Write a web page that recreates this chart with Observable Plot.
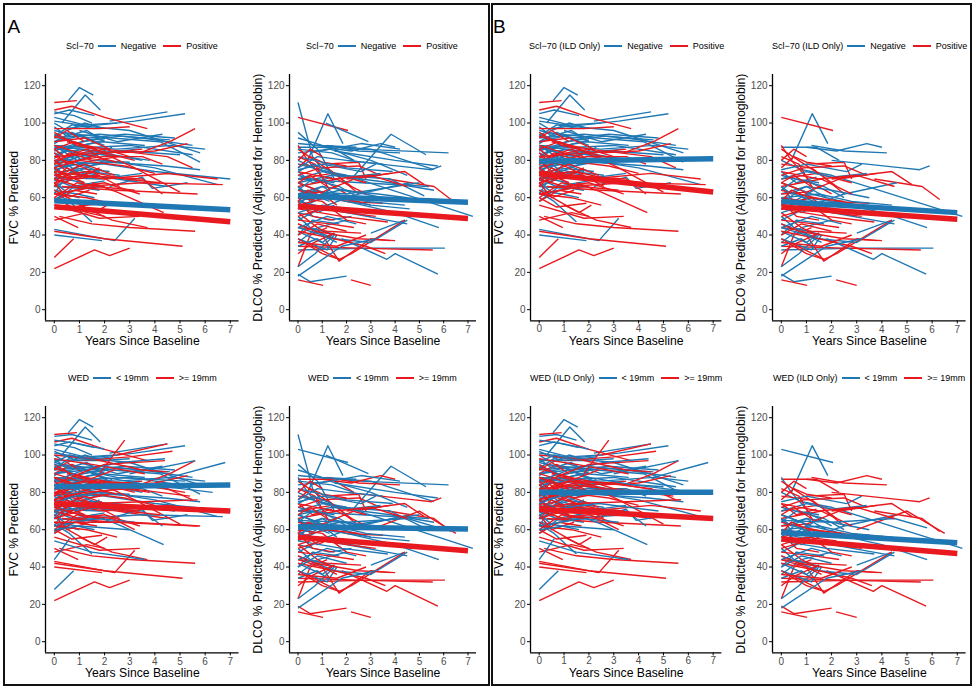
<!DOCTYPE html>
<html>
<head>
<meta charset="utf-8">
<script src="https://cdn.jsdelivr.net/npm/d3@7"></script>
<script src="https://cdn.jsdelivr.net/npm/@observablehq/plot@0.6"></script>
<style>
  html, body { margin: 0; padding: 0; background: #fff; }
  #page { position: relative; width: 975px; height: 689px; overflow: hidden; background: #fff;
          font-family: "Liberation Sans", Arial, Helvetica, sans-serif; }
  .box { position: absolute; border: 2.5px solid #111; box-sizing: border-box; }
  .tag { position: absolute; font-size: 19px; color: #000; line-height: 1; }
  .legend { position: absolute; display: flex; align-items: center; white-space: nowrap; height: 12px;
            font-size: 9px; line-height: 12px; color: #000; }
  .legend .key { display: inline-block; width: 18px; height: 2px; margin: 0 5px 0 4px; }
  .legend .gap { display: inline-block; width: 3px; }
  svg.panel { position: absolute; }
</style>
</head>
<body>
<div id="page"></div>
<script>
// ---------------- data ----------------
const xTicks = [0, 1, 2, 3, 4, 5, 6, 7];
const yTicks = [0, 20, 40, 60, 80, 100, 120];
const scl70Labels = ["Negative", "Positive"];
const wedLabels = ["< 19mm", ">= 19mm"];
const xTitle = "Years Since Baseline";
const fvcTitle = "FVC % Predicted";
const dlcoTitle = "DLCO % Predicted (Adjusted for Hemoglobin)";

// FVC trajectories: [Scl-70 (N/P/null), WED (L = <19mm, G = >=19mm), ILD (1/0), t0, v0, t1, v1, ...]
const fvcLines = [
  ["N","L",1, 0.56,112, 1.0,119, 1.55,115],
  ["N","L",1, 0.3,100, 1.23,115, 1.83,107],
  ["N","L",1, 0,105, 0.6,107, 1.6,104],
  ["N","L",1, 0,103, 1.2,99, 2.5,100],
  ["N","L",1, 2.2,101, 4.5,106],
  ["N","L",1, 0.4,97, 3.2,101, 5.2,105],
  ["N","L",1, 0,101, 1.5,98, 3,96, 5.8,84],
  ["N","L",1, 0.2,95, 2.3,92, 4.2,90, 5.8,79],
  ["N","L",1, 0,92, 1.8,94, 3.5,92, 5.5,88],
  ["N","L",1, 0,88, 2.5,86, 4.6,88, 6,86],
  ["N","L",0, 0,80, 2,78, 4,74, 7,70],
  ["N","L",1, 0,85, 1.1,90, 2.6,93, 4.6,91],
  ["N","L",1, 0,78, 1,82, 2.8,85, 5,83],
  ["N","G",1, 0,90, 0.7,95, 1.8,89],
  ["N","L",1, 0.1,84, 1.2,86, 3.5,80],
  ["N","L",1, 0,75, 1.5,80, 3,79],
  ["N","L",1, 0,72, 0.8,76, 2.2,74],
  ["N","G",1, 0,70, 1.4,72, 2.5,70, 4.5,66],
  ["N","L",1, 0,68, 0.5,63, 1.6,66],
  ["N","L",1, 0,66, 1,65, 2,66],
  ["N","L",1, 2.2,66, 3.5,71, 3.9,65, 5.3,68],
  ["N","L",1, 0,64, 0.9,62, 1.6,60],
  ["N","L",1, 0,63, 0.6,58, 1.5,47],
  ["N","G",1, 0,43, 2.4,37, 3.2,49],
  ["N","G",1, 0,40, 1.9,37],
  ["N","L",0, 0,59, 0.4,62, 1,60],
  ["N","L",1, 0,98, 0.5,93, 1.3,96, 2,90],
  ["N","L",1, 0,82, 0.5,86, 1.1,80],
  ["N","G",1, 0,76, 1,86, 2.2,84],
  ["N","L",1, 0.3,88, 1.6,84, 3.4,86],
  ["N","L",1, 0,94, 0.8,89, 1.8,92],
  ["N","L",1, 1,96, 2.5,90, 4.3,94],
  ["N","L",1, 0,74, 0.5,78, 1.3,70],
  ["N","L",1, 0,86, 3,88, 5.5,83],
  ["N","L",1, 0.5,72, 2,80, 4,76, 6.5,67],
  ["N","L",1, 0,80, 1,72, 1.9,75],
  ["N","L",1, 0,70, 0.7,66, 2,69],
  ["N","G",1, 0,88, 0.9,80, 1.7,83],
  ["N","L",1, 0,66, 1.3,74, 2.6,72],
  ["N","L",0, 0,106, 0.8,104, 1.5,100],
  ["N","L",1, 0,96, 1.4,92, 2.8,94, 4.8,92],
  ["N","L",1, 0,90, 1,93, 2,88],
  ["N","L",1, 0,84, 0.6,80, 1.4,84, 2.4,82],
  ["N","G",1, 0,79, 1.2,84, 2.8,82, 3.8,80],
  ["N","L",1, 0.2,86, 1.9,90, 3.6,88],
  ["N","L",1, 0,77, 2.2,79, 4.4,77, 5.8,75],
  ["N","L",1, 0,93, 0.7,99, 1.6,97],
  ["N","L",1, 0,71, 1.8,70, 3.5,73],
  ["N","L",1, 0,100, 0.5,96, 1.2,100, 2,97],
  ["N","L",1, 0,89, 0.4,92, 1.1,88, 2,91],
  ["N","L",1, 0,81, 0.8,88, 1.6,86],
  ["N","G",1, 0,73, 0.6,80, 1.4,77, 2.2,79],
  ["N","L",1, 0,69, 0.9,75, 1.7,72],
  ["N","L",1, 0,62, 0.4,70, 1.2,68],
  ["N","L",1, 0,58, 0.8,66, 1.8,64],
  ["N","L",1, 0,87, 1.4,82, 2.3,87],
  ["N","L",1, 0,76, 0.5,72, 1,78, 1.8,74],
  ["P","G",1, 0,111, 0.9,112],
  ["P","G",1, 0,107, 0.7,109, 2,103, 3.7,97],
  ["P","L",1, 0,97, 1.8,97, 3,98],
  ["P","G",1, 3.4,84, 4.6,90, 5.6,97],
  ["P","G",1, 2.5,84, 4,85, 5.3,89],
  ["P","G",1, 0,93, 1.6,86, 3.2,76, 5,63],
  ["P","L",1, 0,28, 0.77,38],
  ["P","G",1, 0,22, 1.6,32, 2.2,29, 3,33],
  ["P","G",1, 0,42, 2,38, 5.1,34],
  ["P","G",1, 0.2,50, 1.5,46, 3,44, 5.6,42],
  ["P","L",1, 1.1,66, 3.5,68, 6.7,67],
  ["P","G",1, 0.3,66, 2.5,64, 5.7,62],
  ["P","L",1, 1.5,68, 2.5,63, 4.35,52],
  ["P","G",1, 0,50, 0.95,44],
  ["P","G",1, 1,56, 2.3,48, 3.7,44],
  ["P","G",1, 0,80, 0.5,74, 1.2,78, 2.4,72],
  ["P","G",1, 0,76, 1,80, 2.8,77, 4,73],
  ["P","L",1, 0,72, 0.9,70, 1.8,76],
  ["P","G",1, 0,84, 0.5,78, 1.5,82],
  ["P","G",1, 0,70, 1,66, 2,68, 3.4,62],
  ["P","G",1, 0,62, 1.3,60, 2.5,56],
  ["P","G",1, 0,58, 0.8,64, 1.7,62],
  ["P","G",1, 0,64, 1.6,52, 2.1,56],
  ["P","L",1, 0,78, 1.9,82, 3.5,82, 4.3,78],
  ["P","G",1, 0,88, 1,84, 2.5,79],
  ["P","G",1, 0,74, 2,70, 4.5,73, 6.5,70],
  ["P","G",1, 0,60, 0.7,55, 1.9,57],
  ["P","G",1, 0,86, 0.8,90, 1.7,86],
  ["P","G",1, 0,82, 1.2,76, 2.6,66],
  ["P","L",1, 0,68, 1,72, 3.5,70, 4.3,62],
  ["P","G",1, 0,56, 1.8,49, 3.4,50],
  ["P","G",1, 0,48, 1.3,52, 2,50],
  ["P","G",1, 0.5,90, 2,86, 4.5,82, 5.5,76],
  ["P","G",1, 0,66, 0.5,72, 1.2,68],
  ["P","G",1, 0,78, 0.6,84, 1.5,80, 2.6,82],
  ["P","G",1, 0,72, 1.4,74, 2.8,70, 4.2,68],
  ["P","L",1, 0,90, 1.2,92, 2.2,86],
  ["P","G",1, 0,68, 0.5,60, 1.4,64],
  ["P","G",1, 0,82, 2,84, 3.2,80],
  ["P","G",1, 0,95, 0.9,88, 2.2,84, 3.5,86],
  ["P","L",1, 0,62, 1.7,66, 3.2,64],
  ["P","G",1, 0,74, 0.4,68, 1,72],
  ["P","G",1, 0,86, 0.4,82, 1.3,86, 2,80],
  ["P","G",1, 0,76, 0.6,70, 1.6,74],
  ["P","L",1, 0,66, 0.3,74, 0.9,70, 1.8,72],
  ["P","G",1, 0,92, 0.5,96, 1.2,90],
  ["P","G",1, 0,60, 0.9,68, 1.8,66],
  ["P","G",1, 0,80, 1.1,84, 2,86, 3,82],
  ["P","G",1, 0,70, 0.5,76, 1.1,72],
  [null,"L",1, 0,110, 0.7,111, 1.5,108],
  [null,"G",1, 1.8,90, 2.8,108],
  [null,"G",1, 2.5,100, 4.5,106],
  [null,"G",1, 1,97, 3,99, 4.7,102],
  [null,"L",1, 3,90, 5.6,97],
  [null,"L",1, 4.6,88, 6.8,96],
  [null,"L",0, 0,95, 2.5,88, 5.2,86],
  [null,"G",1, 0,100, 1.5,98, 3.5,92, 4.5,91],
  [null,"G",1, 0,80, 1.5,74, 3.5,75, 5.7,76],
  [null,"L",1, 0,60, 1,62, 3,60],
  [null,"G",0, 0,64, 3,64, 5.8,62],
  [null,"L",1, 0,54, 1.5,48, 3.6,44],
  [null,"L",1, 0,44, 0.6,55],
  [null,"G",1, 0,90, 1,86, 3,85, 5.2,80],
  [null,"L",1, 0,84, 2,88, 3.8,84, 6.3,80],
  [null,"G",1, 0,76, 1.2,80, 3,82, 5.4,78],
  [null,"L",1, 0,70, 2.4,74, 4.8,70],
  [null,"G",1, 0,98, 1.5,95, 3.6,90],
  [null,"L",1, 0,108, 1,106, 2,103],
  [null,"G",1, 0,72, 1,68, 2.3,66, 3.2,60],
  [null,"L",1, 0,86, 1.2,92, 2.6,96, 4.4,98],
  [null,"G",1, 0,84, 1,90, 2,95, 4.4,97],
  [null,"L",1, 0,102, 0.9,97, 2.3,99],
  [null,"G",1, 0,66, 1.5,72, 3.4,70],
  [null,"G",1, 0,88, 0.7,84, 1.6,88, 2.4,92],
  [null,"L",1, 0,96, 0.6,100, 1.3,98],
  [null,"G",1, 0,78, 0.5,86, 1.2,82],
  [null,"L",1, 0,74, 0.8,78, 1.9,80]
];

// DLCO trajectories: same layout
const dlcoLines = [
  ["N","L",0, 0,111, 0.6,82, 1,75],
  ["N","L",0, 0,95, 0.8,86, 1.5,70],
  ["N","L",1, 0.4,80, 1.23,105, 1.85,89],
  ["P","L",1, 0,103, 2.06,96],
  ["N","L",0, 1.15,100, 2.9,90],
  ["N","L",0, 2.2,70, 3.83,94, 5.27,83],
  ["N","L",0, 0,89, 2.5,86, 6.2,84],
  ["N","G",1, 0,87, 1.4,87, 2.3,80],
  ["N","L",0, 1.5,85, 4,80, 5.76,77],
  ["N","L",0, 0.8,88, 3,86, 5.6,75],
  ["N","L",0, 0,84, 1.3,86, 3,80, 4.5,72],
  ["N","L",1, 0,80, 0.8,75, 2,72, 7.2,50],
  ["P","G",1, 3.7,70, 5.6,66, 6.3,59],
  ["N","L",1, 2,58, 4,52, 5.8,44],
  ["N","L",1, 3,41, 4.4,48],
  ["N","G",1, 0,32, 3,33, 6.05,33],
  ["P","G",1, 0,34, 2.5,33, 5.55,32],
  ["N","G",1, 1.8,38, 3.66,27, 4.0,30, 5.76,19],
  ["N","G",1, 0,19, 0.5,15, 2.0,18],
  ["P","G",1, 0,16, 1.03,13],
  ["P","G",1, 2.18,16, 3.0,13],
  ["P","G",1, 0,23, 0.5,40, 1.2,44],
  ["P","G",1, 1,40, 1.69,26, 3,38, 3.8,37],
  ["P","G",1, 0.5,35, 1.7,27, 2.2,30, 4.4,48],
  ["P","G",1, 0,44, 1.2,42, 2.6,41],
  ["N","L",1, 0,42, 1,36, 1.5,41],
  ["P","L",1, 0,88, 0.4,80, 1.2,68, 2,62],
  ["P","G",1, 1,78, 2.5,79, 2.8,70],
  ["P","G",1, 2,70, 4.4,74, 5.2,67],
  ["P","G",1, 0,86, 1.6,72, 2.5,62],
  ["P","G",1, 0,78, 1.2,76, 2.2,66],
  ["N","L",1, 0,75, 1,78, 2.6,74, 3.2,78],
  ["N","L",1, 0,72, 1.7,66, 2.5,60],
  ["N","L",1, 0,68, 1.2,62, 3,56, 4.6,54],
  ["N","L",1, 0,66, 0.5,58, 1.3,64],
  ["N","L",0, 0,64, 2,62, 4,66, 5,68],
  ["N","L",1, 0,62, 1,66, 2,64, 3.5,60],
  ["N","G",1, 0,60, 0.8,52, 1.5,56],
  ["N","L",1, 0,58, 1.4,54, 3,50],
  ["N","L",1, 0,56, 2,52, 4.5,46],
  ["N","L",0, 0,52, 1.3,48, 2.2,50],
  ["N","L",1, 0,50, 0.5,44, 1.6,40],
  ["N","L",1, 0,48, 1.2,56, 2.5,62, 4.6,68],
  ["N","L",1, 0,46, 1.5,38, 3,36, 4.5,48],
  ["N","L",1, 0,40, 0.6,48, 1.7,46],
  ["N","L",1, 0,38, 1.2,32, 1.6,40],
  ["N","L",1, 0,36, 0.8,44, 2,48],
  ["N","L",0, 0,70, 2.6,68, 5.4,66],
  ["N","L",0, 0,78, 1.8,72, 3.8,70, 5.2,61],
  ["N","G",1, 0,74, 0.6,68, 1.4,71],
  ["P","G",1, 0,82, 0.7,78, 1.3,64],
  ["P","G",1, 0,72, 0.9,76, 2.5,77, 3.4,72],
  ["P","G",1, 0,66, 1.6,70, 2.8,62],
  ["P","G",1, 0,60, 1,58, 2,48, 2.8,46],
  ["P","G",1, 0,58, 0.6,50, 1.5,48],
  ["P","L",1, 0,54, 1.8,50, 3.7,47],
  ["P","G",1, 0,52, 0.8,44, 1.4,40],
  ["P","G",1, 0,48, 1.3,46, 2.3,44],
  ["P","G",1, 0,46, 0.7,42, 2.5,38, 4,37],
  ["P","G",1, 0,42, 1.5,38, 2.8,34, 3.6,30],
  ["P","G",1, 0,38, 1,30, 1.7,27],
  ["P","G",1, 0,30, 0.5,35, 1.5,41],
  ["P","G",1, 0,62, 1,63, 2.3,70, 3.8,73],
  ["P","L",1, 0,68, 0.8,64, 1.6,56],
  ["P","G",1, 0,76, 0.5,82, 1,79, 2,77],
  ["P","G",1, 0,64, 2,58, 3.5,57],
  ["N","L",1, 0,18, 1.8,34, 3.2,38],
  ["N","L",1, 0,23, 0.7,30, 1.5,40],
  ["N","L",0, 0,82, 2,76, 3.9,74],
  ["N","L",0, 0,86, 1.4,84, 2.3,80],
  ["N","L",1, 0,54, 1,60, 2,58, 3,56],
  ["N","G",1, 0,44, 1,40, 1.6,36],
  ["N","L",1, 0,34, 0.8,38, 1.3,33],
  ["N","L",0, 0,58, 1.7,64, 3.3,62, 4.5,60],
  ["P","G",1, 0,70, 1.4,73, 2.8,68],
  ["N","G",1, 1,87, 2.2,85, 3.4,89, 4,87],
  ["N","G",1, 1.2,88, 2.5,85, 4.2,84],
  ["N","G",1, 2,80, 4.8,76, 5.5,75, 5.9,77],
  [null,"G",1, 3,60, 5,70, 6.5,58],
  [null,"L",1, 0,65, 2,64, 4.5,66, 5.8,61],
  ["N","L",0, 0,92, 1,88, 2.4,87],
  ["N","L",0, 0.5,84, 2.6,89, 4.2,86],
  ["N","L",1, 0,70, 1,74, 2,71, 3.4,73],
  ["N","L",1, 0,64, 0.6,70, 1.5,68],
  ["N","L",1, 0,60, 1.5,62, 2.8,58, 4.4,56],
  ["N","L",0, 0,76, 0.8,82, 2,80, 3.5,78],
  ["N","G",1, 0,52, 1,56, 2.2,54],
  ["N","L",1, 0,44, 1.2,50, 2.4,46],
  ["P","G",1, 0,56, 1.2,60, 2.5,58],
  ["P","G",1, 0,50, 1,54, 2,52, 3.2,50],
  ["P","L",1, 0,40, 0.8,46, 2,42],
  ["P","G",1, 0,36, 1.6,34, 2.8,40],
  ["N","L",0, 0,68, 1.4,72, 3.8,68, 5.6,64],
  ["P","G",1, 0,74, 1.5,70, 3,72, 4.5,66],
  ["N","L",1, 0,66, 0.4,62, 1,66, 1.8,60],
  ["N","L",0, 0,74, 0.6,78, 1.4,74],
  ["P","G",1, 0,68, 0.5,72, 1.2,66],
  ["P","G",1, 0,58, 0.4,64, 1.1,60],
  ["N","L",1, 0,56, 0.5,62, 1.3,58],
  ["P","G",1, 0,80, 0.5,86, 1,82]
];

// Model fit lines per panel: [group (0 = Negative / <19mm, 1 = Positive / >=19mm), t0, v0, t1, v1]
const fitA_FvcScl  = [[0, 0,58.4, 7,53.6], [1, 0,55.2, 7,47.1]];
const fitA_DlcoScl = [[0, 0,61.0, 7,57.5], [1, 0,55.4, 7,48.8]];
const fitA_FvcWed  = [[0, 0,83.0, 7,84.0], [1, 0,74.0, 7,70.0]];
const fitA_DlcoWed = [[0, 0,61.6, 7,60.4], [1, 0,55.9, 7,48.7]];
const fitB_FvcScl  = [[0, 0,79.5, 7,80.8], [1, 0,73.0, 7,63.0]];
const fitB_DlcoScl = [[0, 0,58.0, 7,52.0], [1, 0,55.0, 7,48.5]];
const fitB_FvcWed  = [[0, 0,80.0, 7,80.0], [1, 0,71.0, 7,66.0]];
const fitB_DlcoWed = [[0, 0,58.5, 7,53.0], [1, 0,55.0, 7,47.3]];

// ---------------- drawing ----------------
const BLUE = "#1f78b4", RED = "#e8191f";
const page = document.getElementById("page");

function points(lines, key, ildOnly) {
  const out = [];
  lines.forEach((r, i) => {
    const g = key === "scl" ? r[0] : r[1];
    if (g == null) return;
    if (ildOnly && !r[2]) return;
    const grp = (g === "N" || g === "L") ? 0 : 1;
    for (let k = 3; k < r.length; k += 2) out.push({id: i, grp, t: r[k], v: r[k + 1]});
  });
  return out;
}
function fitPoints(fit) {
  const out = [];
  fit.forEach(f => { out.push({grp: f[0], t: f[1], v: f[2]}); out.push({grp: f[0], t: f[3], v: f[4]}); });
  return out;
}

const cols = { AL: [45.2, 193.6], AR: [288.5, 187], BL: [530.3, 191.4], BR: [772.2, 193.6] };
const rows = { top: [73.8, 246.4], bot: [405.8, 246.4] };
const legendTop = { top: 40, bot: 372 };

function panel(col, row, data, fit, yTitle, legTitle, legLabels) {
  const [left, w] = cols[col], [top, h] = rows[row];
  const ml = 48, mr = 8, mt = 10, mb = 40;
  const svg = Plot.plot({
    width: w + ml + mr, height: h + mt + mb,
    marginLeft: ml, marginRight: mr, marginTop: mt, marginBottom: mb,
    style: {fontFamily: '"Liberation Sans", Arial, sans-serif', background: "transparent", overflow: "visible"},
    x: {domain: [-0.35, 7.35]},
    y: {domain: [-6, 126]},
    marks: [
      Plot.line(data, {x: "t", y: "v", z: "id", stroke: d => d.grp ? RED : BLUE, strokeWidth: 1.4, strokeLinecap: "butt"}),
      Plot.line(fitPoints(fit), {x: "t", y: "v", z: "grp", stroke: d => d.grp ? RED : BLUE, strokeWidth: 5.5, strokeLinecap: "butt"}),
      Plot.ruleX([-0.35], {stroke: "#000", strokeWidth: 1.3}),
      Plot.ruleY([-6], {stroke: "#000", strokeWidth: 1.3}),
      Plot.axisX({ticks: xTicks, tickSize: 3, tickPadding: 1.5, fontSize: 10, stroke: "#000", fill: "#4d4d4d", label: null}),
      Plot.axisY({ticks: yTicks, tickSize: 3, tickPadding: 2, fontSize: 10, stroke: "#000", fill: "#4d4d4d", label: null}),
      Plot.text([xTitle], {frameAnchor: "bottom", lineAnchor: "middle", textAnchor: "middle", dy: 20, fontSize: 12.2, fill: "#000"}),
      Plot.text([yTitle], {frameAnchor: "left", textAnchor: "middle", lineAnchor: "middle", rotate: -90, dx: -31, fontSize: 12.2, fill: "#000"})
    ]
  });
  svg.classList.add("panel");
  svg.style.left = (left - ml) + "px";
  svg.style.top = (top - mt) + "px";
  page.appendChild(svg);

  const leg = document.createElement("div");
  leg.className = "legend";
  leg.style.top = legendTop[row] + "px";
  leg.innerHTML = `<span>${legTitle}</span><span class="key" style="background:${BLUE}"></span><span>${legLabels[0]}</span><span class="gap"></span><span class="key" style="background:${RED}"></span><span>${legLabels[1]}</span>`;
  page.appendChild(leg);
  leg.style.left = Math.round(left + w / 2 - leg.offsetWidth / 2) + "px";
}

// boxes and tags
function box(x, y, w, h) { const d = document.createElement("div"); d.className = "box";
  Object.assign(d.style, {left: x + "px", top: y + "px", width: w + "px", height: h + "px"}); page.appendChild(d); }
box(3, 3, 487, 683);
box(491, 3, 481, 683);
function tag(t, x, y) { const d = document.createElement("div"); d.className = "tag"; d.textContent = t;
  Object.assign(d.style, {left: x + "px", top: y + "px"}); page.appendChild(d); }
tag("A", 7.5, 17);
tag("B", 493, 17);

panel("AL", "top", points(fvcLines, "scl", false), fitA_FvcScl, fvcTitle, "Scl\u221270", scl70Labels);
panel("AR", "top", points(dlcoLines, "scl", false), fitA_DlcoScl, dlcoTitle, "Scl\u221270", scl70Labels);
panel("AL", "bot", points(fvcLines, "wed", false), fitA_FvcWed, fvcTitle, "WED", wedLabels);
panel("AR", "bot", points(dlcoLines, "wed", false), fitA_DlcoWed, dlcoTitle, "WED", wedLabels);
panel("BL", "top", points(fvcLines, "scl", true), fitB_FvcScl, fvcTitle, "Scl\u221270 (ILD Only)", scl70Labels);
panel("BR", "top", points(dlcoLines, "scl", true), fitB_DlcoScl, dlcoTitle, "Scl\u221270 (ILD Only)", scl70Labels);
panel("BL", "bot", points(fvcLines, "wed", true), fitB_FvcWed, fvcTitle, "WED (ILD Only)", wedLabels);
panel("BR", "bot", points(dlcoLines, "wed", true), fitB_DlcoWed, dlcoTitle, "WED (ILD Only)", wedLabels);
</script>
</body>
</html>
